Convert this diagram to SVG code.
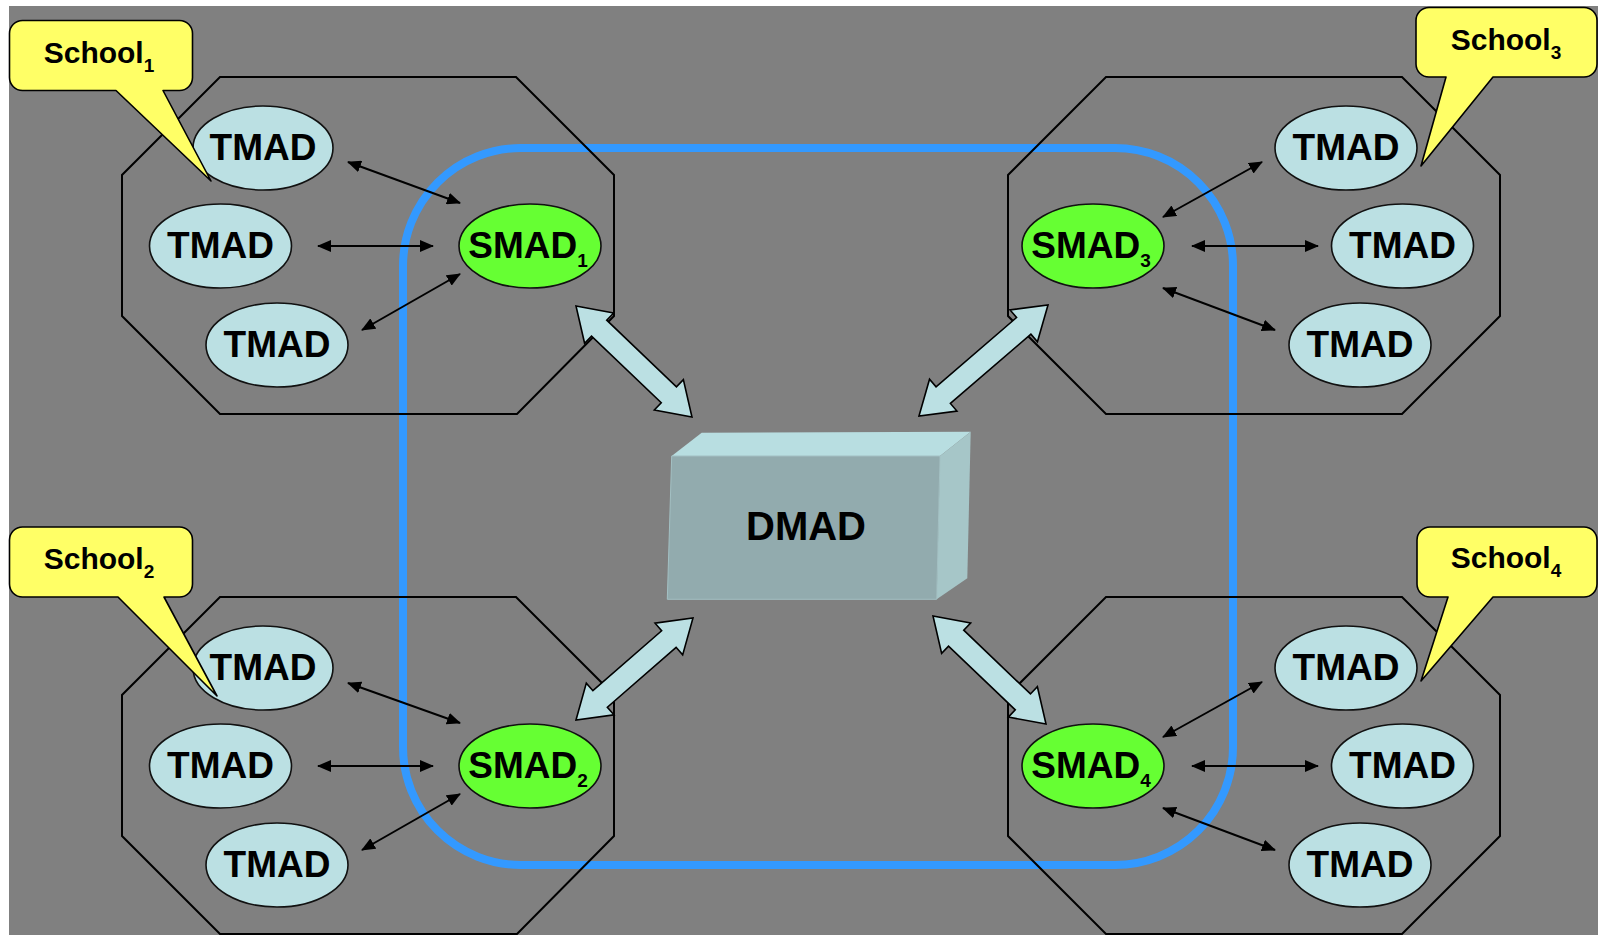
<svg xmlns="http://www.w3.org/2000/svg" width="1598" height="935" viewBox="0 0 1598 935">
  <defs>
    <style>
      .bg { fill: #808080; }
      .school { fill: none; stroke: #000; stroke-width: 2; stroke-linejoin: miter; }
      .ring { fill: none; stroke: #3399ff; stroke-width: 8; }
      .tmad { fill: #bbe0e3; stroke: #111; stroke-width: 1.6; }
      .smad { fill: #66ff33; stroke: #111; stroke-width: 1.6; }
      .callout { fill: #ffff66; stroke: #000; stroke-width: 1.6; stroke-linejoin: round; }
      .lbl { font-family: "Liberation Sans", Arial, sans-serif; font-weight: bold; fill: #000; text-anchor: middle; }
      .node { font-size: 37px; }
      .call { font-size: 30px; }
      .sub { font-size: 19px; }
      .link { stroke: #000; stroke-width: 2; fill: none; marker-start: url(#tip); marker-end: url(#tip); }
      .fat { fill: #bbe0e3; stroke: #000; stroke-width: 1.6; stroke-linejoin: miter; }
    </style>
    <marker id="tip" viewBox="0 0 14 12" refX="13" refY="6" markerWidth="14" markerHeight="12" markerUnits="userSpaceOnUse" orient="auto-start-reverse">
      <path d="M0,0 L14,6 L0,12 Z" fill="#000"/>
    </marker>
  </defs>

  <rect class="bg" x="9" y="6" width="1589" height="929"/>

  <!-- district ring -->
  <rect class="ring" x="403" y="148" width="830" height="717" rx="118" ry="118"/>

  <!-- school boundaries -->
  <g id="school1-area">
    <polygon class="school" points="220,77 516,77 614,175 614,316 517,414 220,414 122,316 122,175"/>
  </g>
  <g id="school2-area">
    <polygon class="school" points="220,597 516,597 614,695 614,836 517,934 220,934 122,836 122,695"/>
  </g>
  <g id="school3-area">
    <polygon class="school" points="1106,77 1402,77 1500,175 1500,316 1402,414 1106,414 1008,316 1008,175"/>
  </g>
  <g id="school4-area">
    <polygon class="school" points="1106,597 1402,597 1500,695 1500,836 1402,934 1106,934 1008,836 1008,695"/>
  </g>

  <!-- connectors -->
  <g id="connectors">
    <!-- school 1 -->
    <line class="link" x1="348" y1="162" x2="460" y2="203"/>
    <line class="link" x1="318" y1="246" x2="433" y2="246"/>
    <line class="link" x1="460" y1="274" x2="362" y2="330"/>
    <!-- school 3 -->
    <line class="link" x1="1163" y1="217" x2="1262" y2="162"/>
    <line class="link" x1="1192" y1="246" x2="1318" y2="246"/>
    <line class="link" x1="1163" y1="288" x2="1275" y2="330"/>
    <!-- school 2 -->
    <line class="link" x1="348" y1="683" x2="460" y2="723"/>
    <line class="link" x1="318" y1="766" x2="433" y2="766"/>
    <line class="link" x1="460" y1="794" x2="362" y2="850"/>
    <!-- school 4 -->
    <line class="link" x1="1163" y1="737" x2="1262" y2="682"/>
    <line class="link" x1="1192" y1="766" x2="1318" y2="766"/>
    <line class="link" x1="1163" y1="808" x2="1275" y2="850"/>

    <!-- SMAD <-> DMAD block arrows, each drawn along its own x axis -->
    <path class="fat" transform="translate(576,306) rotate(43.74)" d="M0,0 L32,-21 L32,-11 L128.5,-11 L128.5,-21 L160.5,0 L128.5,21 L128.5,11 L32,11 L32,21 Z"/>
    <path class="fat" transform="translate(1048,305) rotate(139.3)" d="M0,0 L32,-21 L32,-11 L138.2,-11 L138.2,-21 L170.2,0 L138.2,21 L138.2,11 L32,11 L32,21 Z"/>
    <path class="fat" transform="translate(576,720) rotate(-41.08)" d="M0,0 L32,-21 L32,-11 L123.2,-11 L123.2,-21 L155.2,0 L123.2,21 L123.2,11 L32,11 L32,21 Z"/>
    <path class="fat" transform="translate(1046,724) rotate(-136.3)" d="M0,0 L32,-21 L32,-11 L124.3,-11 L124.3,-21 L156.3,0 L124.3,21 L124.3,11 L32,11 L32,21 Z"/>
  </g>

  <!-- district node -->
  <g id="dmad">
    <polygon points="671.7,456 701.7,432.7 970.7,431.7 940,456" fill="#b8dee1"/>
    <polygon points="940,456 970.7,431.7 967.3,578.3 936.7,599.3" fill="#a6c6c8"/>
    <polygon points="671.7,456 940,456 936.7,599.3 667.3,599.3" fill="#92abae" stroke="#a3c0c3" stroke-width="1"/>
    <text class="lbl" x="806" y="540" font-size="40">DMAD</text>
  </g>

  <!-- school 1 nodes -->
  <g id="smad1"><ellipse class="smad" cx="530" cy="246" rx="71" ry="42"/><text class="lbl node" x="528" y="258">SMAD<tspan class="sub" dy="9">1</tspan></text></g>
  <g id="tmad1a"><ellipse class="tmad" cx="263" cy="148" rx="70" ry="42"/><text class="lbl node" x="263" y="160">TMAD</text></g>
  <g id="tmad1b"><ellipse class="tmad" cx="220.5" cy="246" rx="71" ry="42"/><text class="lbl node" x="220.5" y="258">TMAD</text></g>
  <g id="tmad1c"><ellipse class="tmad" cx="277" cy="345" rx="71" ry="42"/><text class="lbl node" x="277" y="357">TMAD</text></g>

  <!-- school 2 nodes -->
  <g id="smad2"><ellipse class="smad" cx="530" cy="766" rx="71" ry="42"/><text class="lbl node" x="528" y="778">SMAD<tspan class="sub" dy="9">2</tspan></text></g>
  <g id="tmad2a"><ellipse class="tmad" cx="263" cy="668" rx="70" ry="42"/><text class="lbl node" x="263" y="680">TMAD</text></g>
  <g id="tmad2b"><ellipse class="tmad" cx="220.5" cy="766" rx="71" ry="42"/><text class="lbl node" x="220.5" y="778">TMAD</text></g>
  <g id="tmad2c"><ellipse class="tmad" cx="277" cy="865" rx="71" ry="42"/><text class="lbl node" x="277" y="877">TMAD</text></g>

  <!-- school 3 nodes -->
  <g id="smad3"><ellipse class="smad" cx="1093" cy="246" rx="71" ry="42"/><text class="lbl node" x="1091" y="258">SMAD<tspan class="sub" dy="9">3</tspan></text></g>
  <g id="tmad3a"><ellipse class="tmad" cx="1346" cy="148" rx="71" ry="42"/><text class="lbl node" x="1346" y="160">TMAD</text></g>
  <g id="tmad3b"><ellipse class="tmad" cx="1402.5" cy="246" rx="71" ry="42"/><text class="lbl node" x="1402.5" y="258">TMAD</text></g>
  <g id="tmad3c"><ellipse class="tmad" cx="1360" cy="345" rx="71" ry="42"/><text class="lbl node" x="1360" y="357">TMAD</text></g>

  <!-- school 4 nodes -->
  <g id="smad4"><ellipse class="smad" cx="1093" cy="766" rx="71" ry="42"/><text class="lbl node" x="1091" y="778">SMAD<tspan class="sub" dy="9">4</tspan></text></g>
  <g id="tmad4a"><ellipse class="tmad" cx="1346" cy="668" rx="71" ry="42"/><text class="lbl node" x="1346" y="680">TMAD</text></g>
  <g id="tmad4b"><ellipse class="tmad" cx="1402.5" cy="766" rx="71" ry="42"/><text class="lbl node" x="1402.5" y="778">TMAD</text></g>
  <g id="tmad4c"><ellipse class="tmad" cx="1360" cy="865" rx="71" ry="42"/><text class="lbl node" x="1360" y="877">TMAD</text></g>

  <!-- school callouts -->
  <g id="callout1">
    <path class="callout" d="M22.5,20.5 H179.5 A13,13 0 0 1 192.5,33.5 V77.5 A13,13 0 0 1 179.5,90.5 H163 L211,181 L116,90.5 H22.5 A13,13 0 0 1 9.5,77.5 V33.5 A13,13 0 0 1 22.5,20.5 Z"/>
    <text class="lbl call" x="99" y="63">School<tspan class="sub" dy="9">1</tspan></text>
  </g>
  <g id="callout2">
    <path class="callout" d="M22.5,527 H179.5 A13,13 0 0 1 192.5,540 V584 A13,13 0 0 1 179.5,597 H164 L217,696 L118,597 H22.5 A13,13 0 0 1 9.5,584 V540 A13,13 0 0 1 22.5,527 Z"/>
    <text class="lbl call" x="99" y="569">School<tspan class="sub" dy="9">2</tspan></text>
  </g>
  <g id="callout3">
    <path class="callout" d="M1429,7.5 H1584 A13,13 0 0 1 1597,20.5 V64 A13,13 0 0 1 1584,77 H1493 L1421,166 L1446,77 H1429 A13,13 0 0 1 1416,64 V20.5 A13,13 0 0 1 1429,7.5 Z"/>
    <text class="lbl call" x="1506" y="50">School<tspan class="sub" dy="9">3</tspan></text>
  </g>
  <g id="callout4">
    <path class="callout" d="M1430,527 H1584 A13,13 0 0 1 1597,540 V584 A13,13 0 0 1 1584,597 H1493 L1421,681 L1448,597 H1430 A13,13 0 0 1 1417,584 V540 A13,13 0 0 1 1430,527 Z"/>
    <text class="lbl call" x="1506" y="568">School<tspan class="sub" dy="9">4</tspan></text>
  </g>
</svg>
